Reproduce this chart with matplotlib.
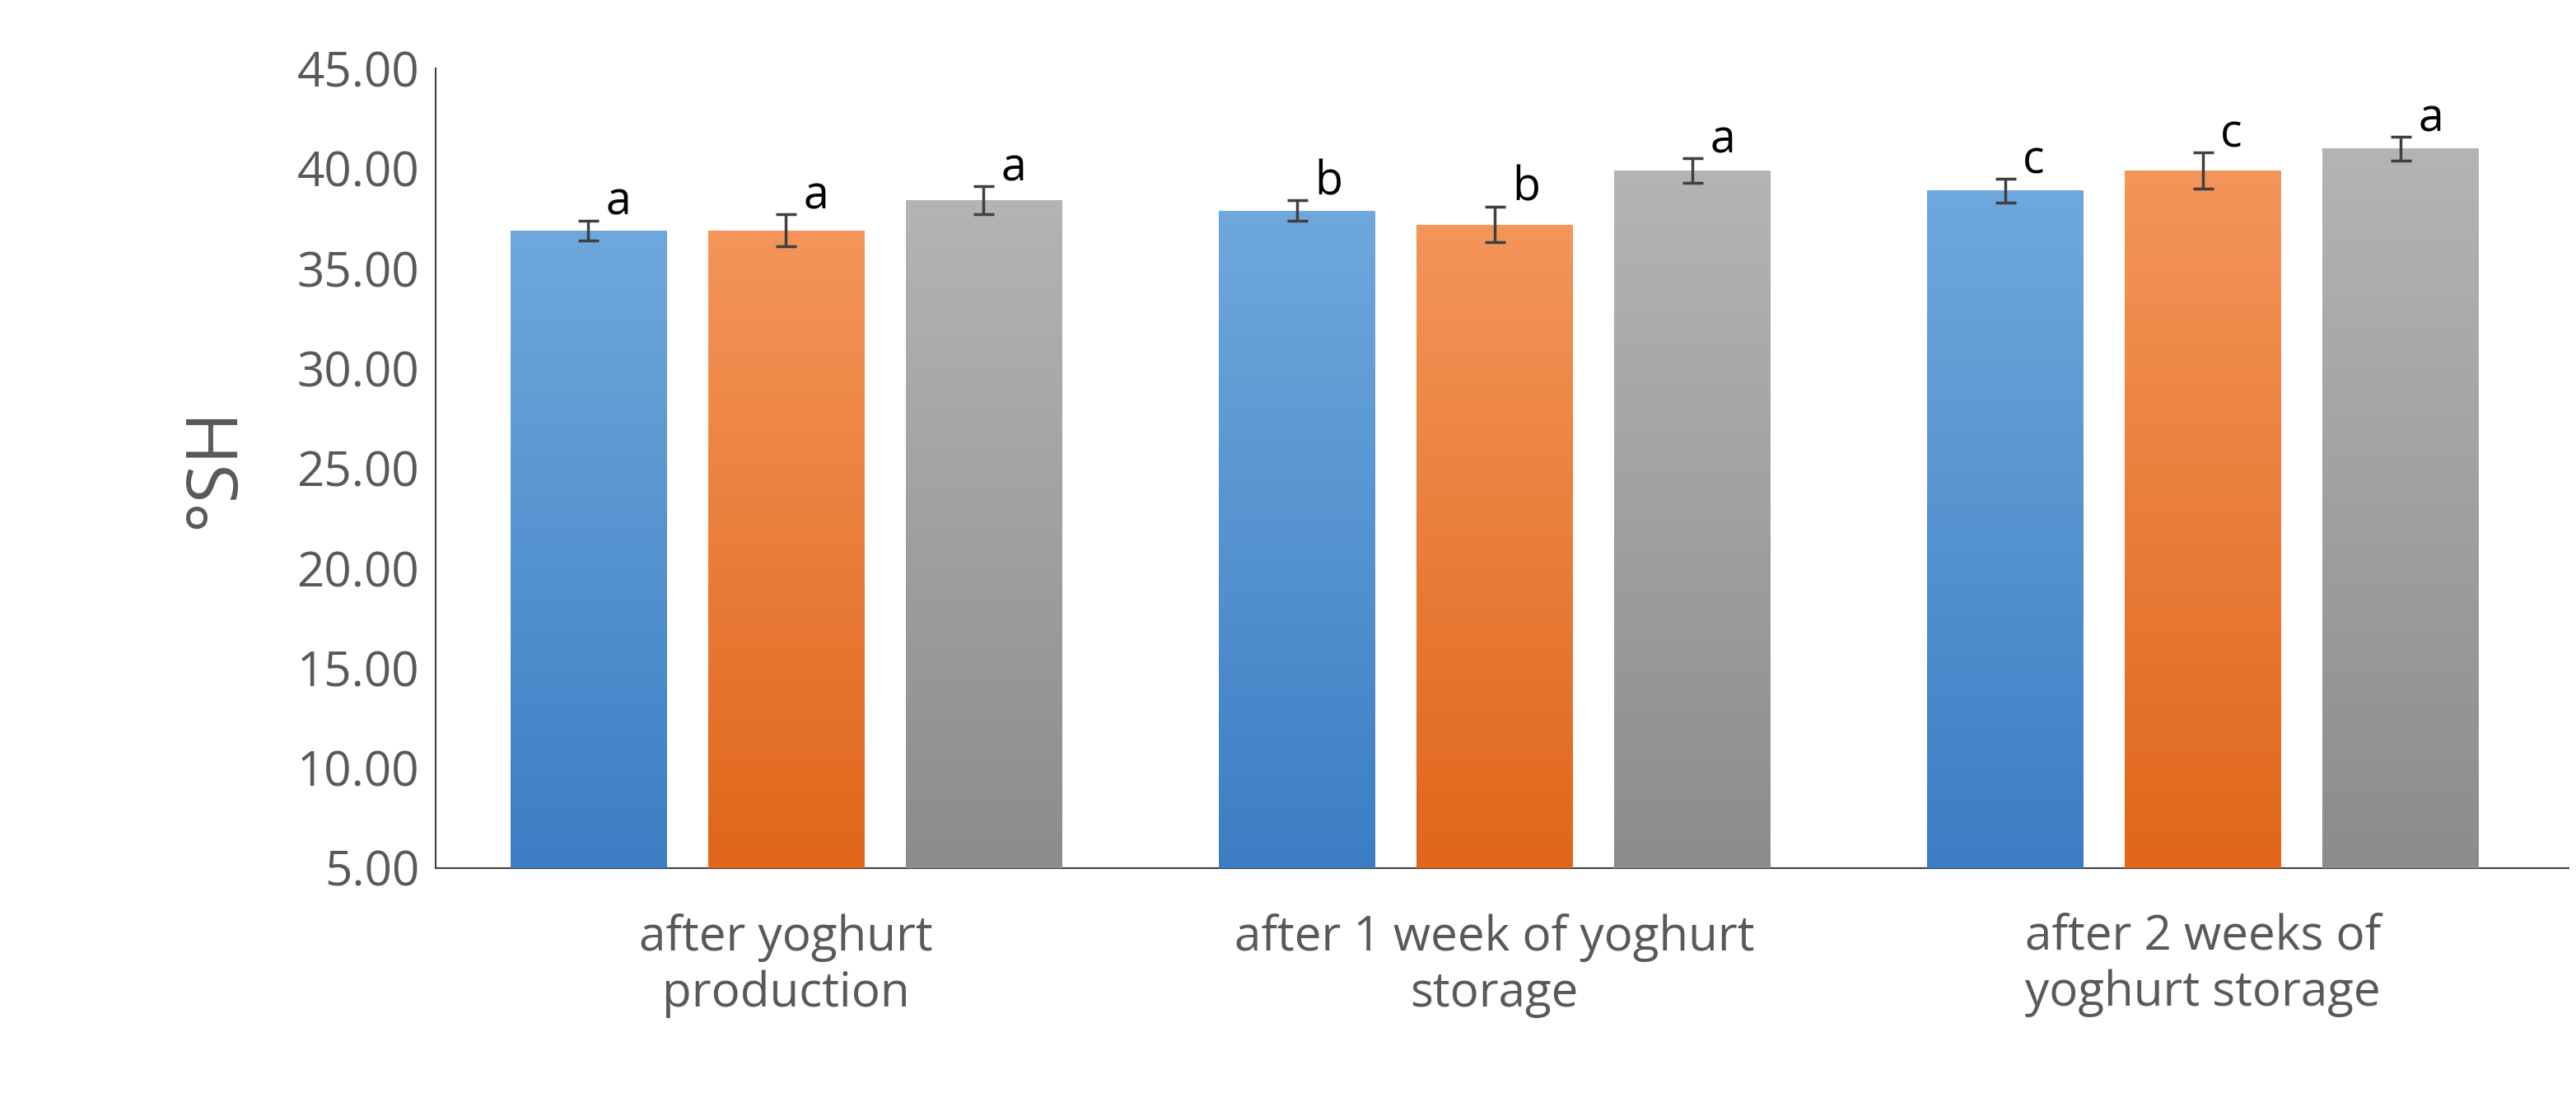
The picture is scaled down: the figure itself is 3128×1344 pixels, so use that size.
import matplotlib
matplotlib.use("Agg")
import matplotlib.pyplot as plt
import numpy as np
from matplotlib.colors import LinearSegmentedColormap

plt.rcParams['font.family'] = ['Open Sans', 'DejaVu Sans']

categories = ["after yoghurt\nproduction", "after 1 week of yoghurt\nstorage", "after 2 weeks of\nyoghurt storage"]
s1 = [36.9, 37.9, 38.9]
s2 = [36.9, 37.2, 39.9]
s3 = [38.4, 39.9, 41.0]
e1 = [0.5, 0.5, 0.6]
e2 = [0.8, 0.9, 0.9]
e3 = [0.7, 0.6, 0.6]
l1 = ["a", "b", "c"]
l2 = ["a", "b", "c"]
l3 = ["a", "a", "a"]

fig = plt.figure(figsize=(31.28, 13.44), dpi=100)
ax = fig.add_axes([0.169, 0.216, 0.828, 0.722])
x = np.arange(3)
pitch, width = 0.279, 0.22
grads = [("#6FA8DC", "#3C7DC4"), ("#F4955A", "#E0661A"), ("#B4B4B4", "#8C8C8C")]
ymin = 5
for k, (vals, errs, labs) in enumerate([(s1, e1, l1), (s2, e2, l2), (s3, e3, l3)]):
    pos = x + (k - 1) * pitch
    bars = ax.bar(pos, np.array(vals) - ymin, width, bottom=ymin, color=grads[k][0], zorder=2)
    cmap = LinearSegmentedColormap.from_list("g", [grads[k][1], grads[k][0]])
    for b in bars:
        bx, by, bw, bh = b.get_x(), b.get_y(), b.get_width(), b.get_height()
        im = ax.imshow(np.linspace(0, 1, 256).reshape(-1, 1), cmap=cmap, origin="lower",
                       extent=[bx, bx + bw, by, by + bh], aspect="auto", zorder=3)
        im.set_clip_path(b)
    ax.errorbar(pos, vals, yerr=errs, fmt="none", ecolor="#404040", elinewidth=2.5,
                capsize=9, capthick=2.5, zorder=4)
    for p, v, e, t in zip(pos, vals, errs, labs):
        ax.text(p + 0.025, v + e - 0.3, t, fontsize=40, color="black", ha="left", va="bottom", zorder=5)

ax.set_xlim(-0.495, 2.516)
ax.set_ylim(5, 45)
ax.set_yticks(np.arange(5, 46, 5))
ax.set_yticklabels([f"{v:.2f}" for v in np.arange(5, 46, 5)])
ax.set_xticks(x)
ax.set_xticklabels(categories, linespacing=1.2)
ax.tick_params(axis="y", labelsize=42, labelcolor="#595959", length=0, pad=14)
ax.tick_params(axis="x", labelsize=42, labelcolor="#595959", length=0, pad=40)
for s in ["top", "right"]:
    ax.spines[s].set_visible(False)
ax.spines["left"].set_color("#404040")
ax.spines["bottom"].set_color("#404040")
ax.spines["left"].set_linewidth(1.5)
ax.spines["bottom"].set_linewidth(1.5)
ax.set_ylabel("°SH", fontsize=62, color="#595959", labelpad=40)
fig.savefig("out.png", dpi=100)
